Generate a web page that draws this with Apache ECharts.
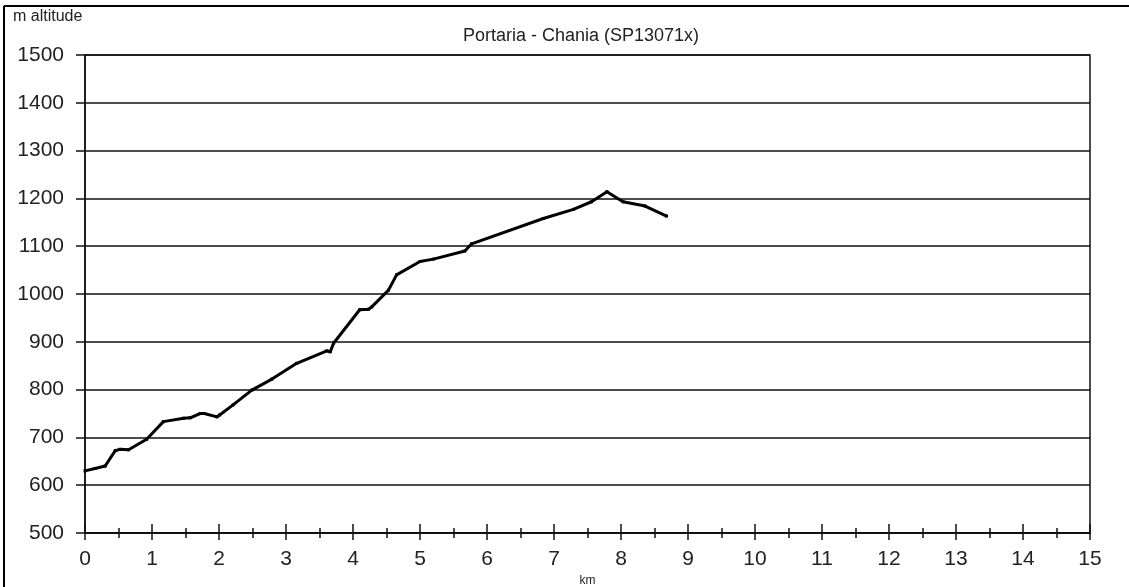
<!DOCTYPE html>
<html>
<head>
<meta charset="utf-8">
<script src="https://cdn.jsdelivr.net/npm/echarts@6/dist/echarts.min.js"></script>
<style>
html,body{margin:0;padding:0;background:#fff;}
#chart{width:1129px;height:587px;}
</style>
</head>
<body>
<div id="chart"></div>
<script>
const titleText = 'Portaria - Chania (SP13071x)';
const yAxisTitle = 'm altitude';
const xAxisTitle = 'km';
const distanceKm = [0, 0.15, 0.3, 0.45, 0.52, 0.65, 0.92, 1.17, 1.47, 1.57, 1.72, 1.78, 1.97, 2.01, 2.21, 2.49, 2.79, 3.16, 3.61, 3.66, 3.71, 4.1, 4.23, 4.28, 4.53, 4.65, 5.0, 5.2, 5.67, 5.77, 6.84, 7.29, 7.56, 7.79, 8.03, 8.36, 8.68];
const altitudeM = [630, 635, 640, 672, 675, 674, 696, 733, 740, 741, 750, 750, 743, 747, 768, 799, 822, 855, 881, 879, 897, 967, 968, 973, 1008, 1040, 1068, 1073, 1090, 1105, 1158, 1177, 1193, 1214, 1193, 1184, 1163];
const xMin = 0, xMax = 15, xStep = 1;
const yMin = 500, yMax = 1500, yStep = 100;

const points = distanceKm.map((d, i) => [d, altitudeM[i]]);
const font = 'Liberation Sans, Arial, sans-serif';
const chart = echarts.init(document.getElementById('chart'));
chart.setOption({
  animation: false,
  backgroundColor: '#fff',
  title: {
    text: titleText,
    left: 576, top: 22, textAlign: 'center',
    textStyle: {fontFamily: font, fontSize: 18, fontWeight: 'normal', color: '#222'}
  },
  grid: {left: 85, right: 39, top: 55, bottom: 54, outerBoundsMode: 'none', containLabel: false, show: true, borderColor: '#111', borderWidth: 1.5, backgroundColor: 'transparent'},
  xAxis: [{
    type: 'value', min: xMin, max: xMax, interval: xStep,
    name: xAxisTitle, nameLocation: 'middle', nameGap: 39,
    nameTextStyle: {fontFamily: font, fontSize: 12, color: '#222'},
    axisLine: {show: true, lineStyle: {color: '#111', width: 1.5}},
    axisTick: {show: true, inside: false, length: 7, lineStyle: {color: '#111', width: 1.5}},
    minorTick: {show: true, splitNumber: 2, length: 5, lineStyle: {color: '#111', width: 1.5}},
    axisLabel: {fontFamily: font, fontSize: 21, color: '#222', margin: 16},
    splitLine: {show: false}
  }, {
    type: 'value', min: xMin, max: xMax, interval: xStep, position: 'bottom',
    axisLine: {show: true, lineStyle: {color: '#111', width: 1.5}},
    axisTick: {show: true, inside: true, length: 9, lineStyle: {color: '#111', width: 1.5}},
    minorTick: {show: true, splitNumber: 2, length: 5, lineStyle: {color: '#111', width: 1.5}},
    axisLabel: {show: false},
    splitLine: {show: false}
  }],
  yAxis: {
    type: 'value', min: yMin, max: yMax, interval: yStep,
    axisLine: {show: true, lineStyle: {color: '#111', width: 1.5}},
    axisTick: {show: true, inside: false, length: 9, lineStyle: {color: '#111', width: 1.5}},
    axisLabel: {fontFamily: font, fontSize: 21, color: '#222', margin: 21, formatter: v => String(v)},
    splitLine: {show: true, lineStyle: {color: '#111', width: 1.5}}
  },
  graphic: [
    {type: 'text', left: 13, top: 9, style: {text: yAxisTitle, font: '16px Liberation Sans, Arial, sans-serif', fill: '#222'}},
    {type: 'line', shape: {x1: 4, y1: 6, x2: 1129, y2: 6}, style: {stroke: '#000', lineWidth: 2}},
    {type: 'line', shape: {x1: 4, y1: 6, x2: 4, y2: 587}, style: {stroke: '#000', lineWidth: 2}}
  ],
  series: [{
    type: 'line', xAxisIndex: 0, data: points,
    symbol: 'rect', symbolSize: 3, showSymbol: true,
    itemStyle: {color: '#000'},
    lineStyle: {color: '#000', width: 3}
  }]
});
</script>
</body>
</html>
